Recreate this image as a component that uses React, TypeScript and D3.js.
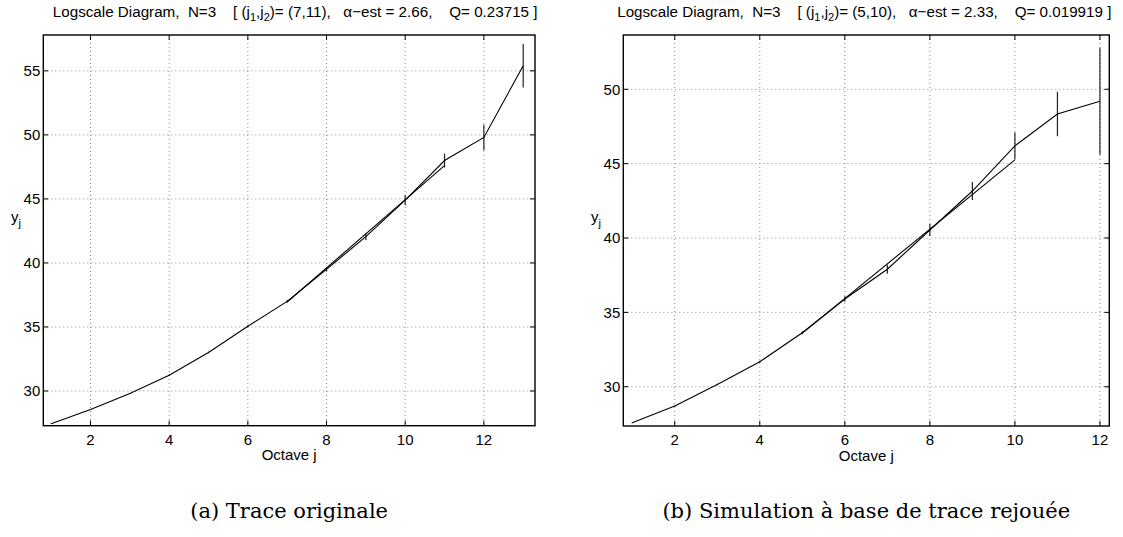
import React from "react";
import * as d3 from "d3";

// ---------- data ----------
const octavesA = [1, 2, 3, 4, 5, 6, 7, 8, 9, 10, 11, 12, 13];
const yjA = [27.45, 28.55, 29.8, 31.23, 33.0, 35.05, 37.0, 39.5, 42.05, 44.9, 48.0, 49.8, 55.4];
const ciA = [0.03, 0.03, 0.04, 0.05, 0.06, 0.08, 0.1, 0.15, 0.25, 0.4, 0.55, 1.0, 1.7];
const fitJA = [7, 11];
const fitYA = [36.95, 47.6];

const octavesB = [1, 2, 3, 4, 5, 6, 7, 8, 9, 10, 11, 12];
const yjB = [27.58, 28.7, 30.15, 31.68, 33.63, 35.9, 37.9, 40.54, 43.16, 46.2, 48.34, 49.2];
const ciB = [0.03, 0.04, 0.05, 0.07, 0.1, 0.18, 0.3, 0.4, 0.6, 0.9, 1.5, 3.6];
const fitJB = [5, 10];
const fitYB = [33.6, 45.25];

const xTicksA = [2, 4, 6, 8, 10, 12];
const yTicksA = [30, 35, 40, 45, 50, 55];
const xTicksB = [2, 4, 6, 8, 10, 12];
const yTicksB = [30, 35, 40, 45, 50];

const titleA = { j: "(7,11)", alpha: "2.66", q: "0.23715" };
const titleB = { j: "(5,10)", alpha: "2.33", q: "0.019919" };
const captionA = "(a) Trace originale";
const captionB = "(b) Simulation à base de trace rejouée";

const SANS = "'Liberation Sans', Arial, Helvetica, sans-serif";
const SERIF = "'DejaVu Serif', 'Liberation Serif', serif";

type PanelProps = {
  left: number; right: number; top: number; bottom: number;
  xDomain: [number, number]; yDomain: [number, number];
  xs: number[]; ys: number[]; ci: number[];
  fitJ: number[]; fitY: number[];
  xTicks: number[]; yTicks: number[];
  title: { j: string; alpha: string; q: string };
  caption: string;
  ylabelX: number;
  titleDx: number;
};

function Panel(p: PanelProps) {
  const x = d3.scaleLinear().domain(p.xDomain).range([p.left, p.right]);
  const y = d3.scaleLinear().domain(p.yDomain).range([p.bottom, p.top]);
  const line = d3.line<number>().x((_, i) => x(p.xs[i])).y((d) => y(d));
  const fitLine = d3.line<number>().x((_, i) => x(p.fitJ[i])).y((d) => y(d));
  const tl = 5;
  const cx = (p.left + p.right) / 2;
  const clipId = "clip" + Math.round(p.left);
  const fs = 15;
  return (
    <g>
      <defs>
        <clipPath id={clipId}>
          <rect x={p.left} y={p.top} width={p.right - p.left} height={p.bottom - p.top} />
        </clipPath>
      </defs>
      <rect x={p.left} y={p.top} width={p.right - p.left} height={p.bottom - p.top} fill="#fff" />
      {/* grid */}
      {p.xTicks.map((t) => (
        <line key={"gx" + t} x1={x(t)} x2={x(t)} y1={p.top} y2={p.bottom} stroke="#8a8a8a" strokeWidth={1} strokeDasharray="1 3" />
      ))}
      {p.yTicks.map((t) => (
        <line key={"gy" + t} x1={p.left} x2={p.right} y1={y(t)} y2={y(t)} stroke="#8a8a8a" strokeWidth={1} strokeDasharray="1 3" />
      ))}
      <g clipPath={`url(#${clipId})`}>
        {/* error bars */}
        {p.xs.map((j, i) => (
          <line key={"e" + j} x1={x(j)} x2={x(j)} y1={y(p.ys[i] - p.ci[i])} y2={y(p.ys[i] + p.ci[i])} stroke="#222" strokeWidth={1.2} />
        ))}
        <path d={line(p.ys) || ""} fill="none" stroke="#000" strokeWidth={1.1} />
        <path d={fitLine(p.fitY) || ""} fill="none" stroke="#000" strokeWidth={1.1} />
      </g>
      {/* ticks */}
      {p.xTicks.map((t) => (
        <g key={"tx" + t}>
          <line x1={x(t)} x2={x(t)} y1={p.bottom} y2={p.bottom - tl} stroke="#000" />
          <line x1={x(t)} x2={x(t)} y1={p.top} y2={p.top + tl} stroke="#000" />
          <text x={x(t)} y={p.bottom + 19} textAnchor="middle" fontFamily={SANS} fontSize={fs}>{t}</text>
        </g>
      ))}
      {p.yTicks.map((t) => (
        <g key={"ty" + t}>
          <line x1={p.left} x2={p.left + tl} y1={y(t)} y2={y(t)} stroke="#000" />
          <line x1={p.right} x2={p.right - tl} y1={y(t)} y2={y(t)} stroke="#000" />
          <text x={p.left - 3} y={y(t) + 5.3} textAnchor="end" fontFamily={SANS} fontSize={fs}>{t}</text>
        </g>
      ))}
      <rect x={p.left} y={p.top} width={p.right - p.left} height={p.bottom - p.top} fill="none" stroke="#000" strokeWidth={1.4} />
      {/* labels */}
      <text x={cx} y={p.bottom + 34.5} textAnchor="middle" fontFamily={SANS} fontSize={fs}>Octave j</text>
      <text x={p.ylabelX} y={222} fontFamily={SANS} fontSize={fs}>
        y<tspan dy={5} fontSize={11}>j</tspan>
      </text>
      <text x={cx + p.titleDx} y={16.5} textAnchor="middle" fontFamily={SANS} fontSize={15.2} style={{ whiteSpace: "pre" }}>
        {"Logscale Diagram,  N=3    [ (j"}
        <tspan dy={4} fontSize={11}>1</tspan>
        <tspan dy={-4}>{",j"}</tspan>
        <tspan dy={4} fontSize={11}>2</tspan>
        <tspan dy={-4}>{")= " + p.title.j + ",   α−est = " + p.title.alpha + ",    Q= " + p.title.q + " ]"}</tspan>
      </text>
      <text x={cx} y={518} textAnchor="middle" fontFamily={SERIF} fontSize={21}>{p.caption}</text>
    </g>
  );
}

export default function App() {
  return (
    <div style={{ position: "absolute", left: 0, top: 0 }}>
      <svg width={1123} height={537} xmlns="http://www.w3.org/2000/svg" style={{ display: "block", background: "#fff" }}>
        <rect width={1123} height={537} fill="#fff" />
        <Panel
          left={43.3} right={535} top={35} bottom={425.7}
          xDomain={[0.8, 13.3]} yDomain={[27.29, 57.8]}
          xs={octavesA} ys={yjA} ci={ciA} fitJ={fitJA} fitY={fitYA}
          xTicks={xTicksA} yTicks={yTicksA} title={titleA} caption={captionA}
          ylabelX={11} titleDx={6}
        />
        <Panel
          left={623.3} right={1109.3} top={35} bottom={426}
          xDomain={[0.79, 12.22]} yDomain={[27.36, 53.65]}
          xs={octavesB} ys={yjB} ci={ciB} fitJ={fitJB} fitY={fitYB}
          xTicks={xTicksB} yTicks={yTicksB} title={titleB} caption={captionB}
          ylabelX={591} titleDx={-2}
        />
      </svg>
    </div>
  );
}
